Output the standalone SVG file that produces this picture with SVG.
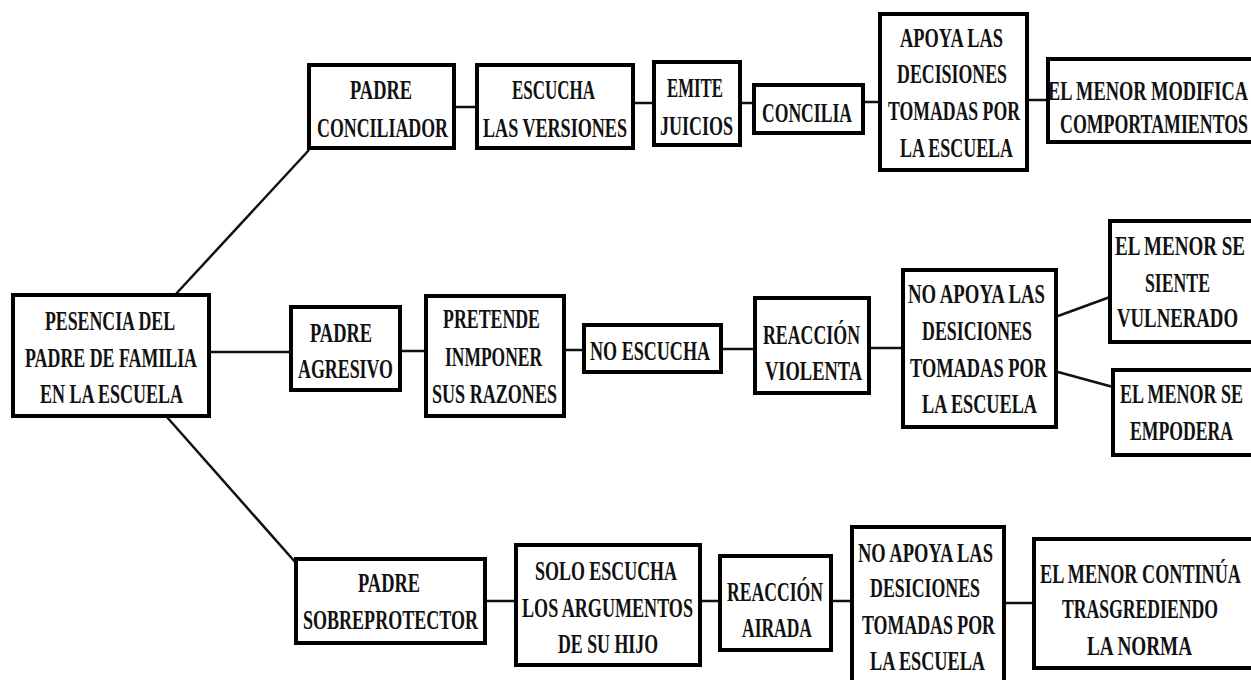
<svg xmlns="http://www.w3.org/2000/svg" width="1251" height="680" viewBox="0 0 1251 680">
<style>
.box{fill:#fff;stroke:#000;stroke-width:4}
.t{font-family:"Liberation Serif","Times New Roman",serif;font-weight:bold;font-size:28px;fill:#111}
.c{stroke:#111;stroke-width:2.5;fill:none}
</style>
<rect width="1251" height="680" fill="#fff"/>
<g id="connectors">
<line class="c" x1="175" y1="295" x2="309" y2="150"/>
<line class="c" x1="210" y1="352" x2="291" y2="352"/>
<line class="c" x1="166" y1="416" x2="296" y2="563"/>
<line class="c" x1="456" y1="107" x2="477" y2="107"/>
<line class="c" x1="635" y1="103" x2="654" y2="103"/>
<line class="c" x1="742" y1="103" x2="754" y2="103"/>
<line class="c" x1="865" y1="102" x2="880" y2="102"/>
<line class="c" x1="1029" y1="100" x2="1048" y2="100"/>
<line class="c" x1="402" y1="351" x2="426" y2="351"/>
<line class="c" x1="566" y1="350" x2="584" y2="350"/>
<line class="c" x1="723" y1="349" x2="755" y2="349"/>
<line class="c" x1="871" y1="348" x2="903" y2="348"/>
<line class="c" x1="1058" y1="316" x2="1110" y2="297"/>
<line class="c" x1="1058" y1="372" x2="1113" y2="387"/>
<line class="c" x1="487" y1="601" x2="516" y2="601"/>
<line class="c" x1="702" y1="601" x2="720" y2="601"/>
<line class="c" x1="833" y1="601" x2="852" y2="601"/>
<line class="c" x1="1006" y1="603" x2="1034" y2="603"/>
</g>
<g id="root">
<rect class="box" x="13" y="295" width="196" height="121"/>
<text class="t" x="45" y="330" textLength="130" lengthAdjust="spacingAndGlyphs">PESENCIA DEL</text>
<text class="t" x="25" y="367" textLength="172" lengthAdjust="spacingAndGlyphs">PADRE DE FAMILIA</text>
<text class="t" x="40" y="403" textLength="143" lengthAdjust="spacingAndGlyphs">EN LA ESCUELA</text>
</g>
<g id="padre-conciliador">
<rect class="box" x="309" y="65" width="145" height="83"/>
<text class="t" x="350" y="99" textLength="62" lengthAdjust="spacingAndGlyphs">PADRE</text>
<text class="t" x="317" y="137" textLength="131" lengthAdjust="spacingAndGlyphs">CONCILIADOR</text>
</g>
<g id="escucha-versiones">
<rect class="box" x="477" y="65" width="156" height="83"/>
<text class="t" x="512" y="99" textLength="83" lengthAdjust="spacingAndGlyphs">ESCUCHA</text>
<text class="t" x="483" y="137" textLength="144" lengthAdjust="spacingAndGlyphs">LAS VERSIONES</text>
</g>
<g id="emite-juicios">
<rect class="box" x="654" y="62" width="86" height="83"/>
<text class="t" x="667" y="97" textLength="56" lengthAdjust="spacingAndGlyphs">EMITE</text>
<text class="t" x="660" y="135" textLength="73" lengthAdjust="spacingAndGlyphs">JUICIOS</text>
</g>
<g id="concilia">
<rect class="box" x="754" y="85" width="109" height="48"/>
<text class="t" x="762" y="122" textLength="90" lengthAdjust="spacingAndGlyphs">CONCILIA</text>
</g>
<g id="apoya-decisiones">
<rect class="box" x="880" y="14" width="147" height="156"/>
<text class="t" x="900" y="47" textLength="103" lengthAdjust="spacingAndGlyphs">APOYA LAS</text>
<text class="t" x="897" y="83" textLength="110" lengthAdjust="spacingAndGlyphs">DECISIONES</text>
<text class="t" x="888" y="120" textLength="132" lengthAdjust="spacingAndGlyphs">TOMADAS POR</text>
<text class="t" x="900" y="157" textLength="113" lengthAdjust="spacingAndGlyphs">LA ESCUELA</text>
</g>
<g id="menor-modifica">
<rect class="box" x="1048" y="59" width="210" height="83"/>
<text class="t" x="1048" y="100" textLength="200" lengthAdjust="spacingAndGlyphs">EL MENOR MODIFICA</text>
<text class="t" x="1060" y="133" textLength="188" lengthAdjust="spacingAndGlyphs">COMPORTAMIENTOS</text>
</g>
<g id="padre-agresivo">
<rect class="box" x="291" y="307" width="109" height="83"/>
<text class="t" x="310" y="342" textLength="62" lengthAdjust="spacingAndGlyphs">PADRE</text>
<text class="t" x="298" y="378" textLength="95" lengthAdjust="spacingAndGlyphs">AGRESIVO</text>
</g>
<g id="pretende-imponer">
<rect class="box" x="426" y="296" width="138" height="120"/>
<text class="t" x="443" y="328" textLength="97" lengthAdjust="spacingAndGlyphs">PRETENDE</text>
<text class="t" x="445" y="366" textLength="97" lengthAdjust="spacingAndGlyphs">INMPONER</text>
<text class="t" x="432" y="403" textLength="125" lengthAdjust="spacingAndGlyphs">SUS RAZONES</text>
</g>
<g id="no-escucha">
<rect class="box" x="584" y="325" width="137" height="47"/>
<text class="t" x="590" y="360" textLength="120" lengthAdjust="spacingAndGlyphs">NO ESCUCHA</text>
</g>
<g id="reaccion-violenta">
<rect class="box" x="755" y="298" width="114" height="95"/>
<text class="t" x="763" y="344" textLength="97" lengthAdjust="spacingAndGlyphs">REACCIÓN</text>
<text class="t" x="765" y="380" textLength="97" lengthAdjust="spacingAndGlyphs">VIOLENTA</text>
</g>
<g id="no-apoya-medio">
<rect class="box" x="903" y="270" width="153" height="157"/>
<text class="t" x="908" y="303" textLength="137" lengthAdjust="spacingAndGlyphs">NO APOYA LAS</text>
<text class="t" x="922" y="340" textLength="110" lengthAdjust="spacingAndGlyphs">DESICIONES</text>
<text class="t" x="910" y="377" textLength="137" lengthAdjust="spacingAndGlyphs">TOMADAS POR</text>
<text class="t" x="922" y="413" textLength="115" lengthAdjust="spacingAndGlyphs">LA ESCUELA</text>
</g>
<g id="menor-vulnerado">
<rect class="box" x="1110" y="221" width="150" height="121"/>
<text class="t" x="1115" y="255" textLength="130" lengthAdjust="spacingAndGlyphs">EL MENOR  SE</text>
<text class="t" x="1145" y="292" textLength="65" lengthAdjust="spacingAndGlyphs">SIENTE</text>
<text class="t" x="1117" y="327" textLength="121" lengthAdjust="spacingAndGlyphs">VULNERADO</text>
</g>
<g id="menor-empodera">
<rect class="box" x="1113" y="370" width="150" height="85"/>
<text class="t" x="1120" y="403" textLength="123" lengthAdjust="spacingAndGlyphs">EL MENOR SE</text>
<text class="t" x="1130" y="440" textLength="103" lengthAdjust="spacingAndGlyphs">EMPODERA</text>
</g>
<g id="padre-sobreprotector">
<rect class="box" x="296" y="559" width="189" height="84"/>
<text class="t" x="358" y="592" textLength="62" lengthAdjust="spacingAndGlyphs">PADRE</text>
<text class="t" x="303" y="629" textLength="175" lengthAdjust="spacingAndGlyphs">SOBREPROTECTOR</text>
</g>
<g id="solo-escucha">
<rect class="box" x="516" y="545" width="184" height="120"/>
<text class="t" x="535" y="580" textLength="142" lengthAdjust="spacingAndGlyphs">SOLO ESCUCHA</text>
<text class="t" x="522" y="617" textLength="171" lengthAdjust="spacingAndGlyphs">LOS ARGUMENTOS</text>
<text class="t" x="558" y="653" textLength="100" lengthAdjust="spacingAndGlyphs">DE SU HIJO</text>
</g>
<g id="reaccion-airada">
<rect class="box" x="720" y="556" width="111" height="94"/>
<text class="t" x="727" y="601" textLength="96" lengthAdjust="spacingAndGlyphs">REACCIÓN</text>
<text class="t" x="742" y="637" textLength="70" lengthAdjust="spacingAndGlyphs">AIRADA</text>
</g>
<g id="no-apoya-inferior">
<rect class="box" x="852" y="527" width="152" height="160"/>
<text class="t" x="858" y="562" textLength="135" lengthAdjust="spacingAndGlyphs">NO APOYA LAS</text>
<text class="t" x="870" y="597" textLength="110" lengthAdjust="spacingAndGlyphs">DESICIONES</text>
<text class="t" x="862" y="634" textLength="133" lengthAdjust="spacingAndGlyphs">TOMADAS POR</text>
<text class="t" x="870" y="670" textLength="115" lengthAdjust="spacingAndGlyphs">LA ESCUELA</text>
</g>
<g id="menor-continua">
<rect class="box" x="1034" y="539" width="225" height="129"/>
<text class="t" x="1040" y="583" textLength="201" lengthAdjust="spacingAndGlyphs">EL MENOR CONTINÚA</text>
<text class="t" x="1062" y="618" textLength="156" lengthAdjust="spacingAndGlyphs">TRASGREDIENDO</text>
<text class="t" x="1087" y="655" textLength="105" lengthAdjust="spacingAndGlyphs">LA NORMA</text>
</g>
</svg>
